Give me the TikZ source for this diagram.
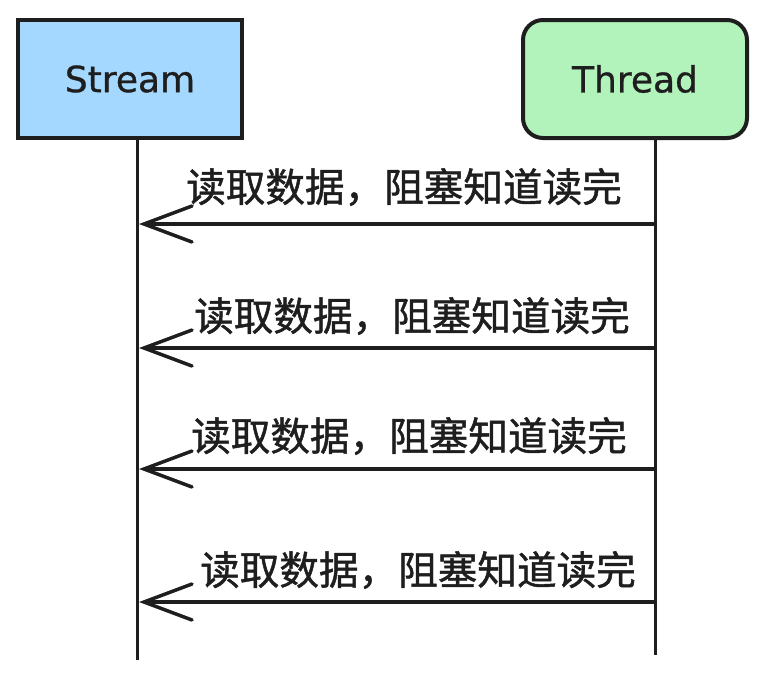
\documentclass[tikz,border=0pt]{standalone}
\usepackage{fontspec}
\newfontfamily\cjk[FakeBold=1.2]{Noto Sans CJK SC}
\newfontfamily\boxfont[FakeBold=0.8]{DejaVu Sans}
\usetikzlibrary{arrows.meta}
\definecolor{ink}{HTML}{1E1E1E}
\definecolor{streamfill}{HTML}{A5D8FF}
\definecolor{threadfill}{HTML}{B2F2BB}
\tikzset{
  actor/.style={draw=ink, line width=4pt, minimum width=224pt, minimum height=118pt,
    inner sep=0pt, font=\boxfont\fontsize{36}{42}\selectfont, text=ink},
  lifeline/.style={draw=ink, line width=3pt},
  msg/.style={draw=ink, line width=4pt,
    -{Straight Barb[length=48pt,width=36pt,line width=3.5pt,line cap=round]}},
  msglabel/.style={font=\cjk\fontsize{39.6}{46}\selectfont, text=ink, inner sep=0pt}
}
\begin{document}
\begin{tikzpicture}[x=1pt,y=-1pt]
\useasboundingbox (0,0) rectangle (766,680);
\node[actor, fill=streamfill] (stream) at (130,79) {Stream};
\node[actor, fill=threadfill, rounded corners=20pt] (thread) at (635,79) {Thread};
\coordinate (sEnd) at (137,660);
\coordinate (tEnd) at (655,655);
\draw[lifeline] (stream.south -| sEnd) -- (sEnd);
\draw[lifeline] (thread.south -| tEnd) -- (tEnd);
\foreach \i/\y/\lx/\ly in {1/224/404/187, 2/348/412/316, 3/469/409/436, 4/602/418/570} {
  \coordinate (t\i) at (655,\y);
  \coordinate (s\i) at (139,\y);
  \draw[msg] (t\i) -- (s\i);
  \node[msglabel] (l\i) at (\lx,\ly) {读取数据，阻塞知道读完};
}
\end{tikzpicture}
\end{document}
